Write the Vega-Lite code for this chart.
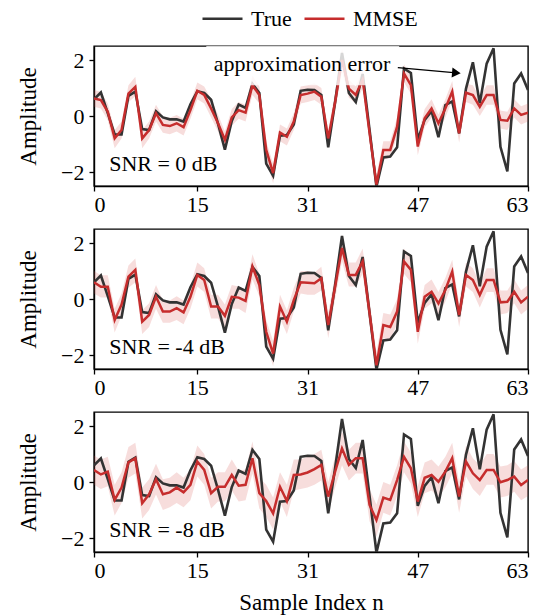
{
  "$schema": "https://vega.github.io/schema/vega-lite/v6.json",
  "padding": {"left": 16, "top": -3, "right": 8, "bottom": 0},
  "background": "white",
  "config": {
    "font": "Liberation Serif",
    "view": {"stroke": "black", "strokeWidth": 1.4},
    "axis": {"grid": false, "domainColor": "black", "domainWidth": 1.4, "tickColor": "black", "tickWidth": 1.3, "tickSize": 5, "labelFontSize": 22, "labelColor": "black", "titleFontSize": 23, "titleFontWeight": "normal", "titleColor": "black"},
    "legend": {"labelFontSize": 22, "labelColor": "black"}
  },
  "datasets": {
    "truth": [
      {"n":0,"v":0.6},{"n":1,"v":0.84},{"n":2,"v":0.1},{"n":3,"v":-0.66},{"n":4,"v":-0.66},{"n":5,"v":0.72},{"n":6,"v":0.87},{"n":7,"v":-0.47},
      {"n":8,"v":-0.5},{"n":9,"v":0.17},{"n":10,"v":-0.05},{"n":11,"v":-0.12},{"n":12,"v":-0.12},{"n":13,"v":-0.2},{"n":14,"v":0.42},{"n":15,"v":0.88},
      {"n":16,"v":0.82},{"n":17,"v":0.58},{"n":18,"v":-0.27},{"n":19,"v":-1.2},{"n":20,"v":-0.18},{"n":21,"v":0.41},{"n":22,"v":0.29},{"n":23,"v":1.15},
      {"n":24,"v":0.82},{"n":25,"v":-1.7},{"n":26,"v":-2.13},{"n":27,"v":-0.7},{"n":28,"v":-0.68},{"n":29,"v":-0.3},{"n":30,"v":0.9},{"n":31,"v":0.94},
      {"n":32,"v":0.93},{"n":33,"v":0.75},{"n":34,"v":-1.12},{"n":35,"v":0.5},{"n":36,"v":2.25},{"n":37,"v":0.82},{"n":38,"v":0.5},{"n":39,"v":1.5},
      {"n":40,"v":-0.5},{"n":41,"v":-2.52},{"n":42,"v":-1.48},{"n":43,"v":-1.45},{"n":44,"v":-1.12},{"n":45,"v":1.7},{"n":46,"v":1.54},{"n":47,"v":-0.85},
      {"n":48,"v":-0.14},{"n":49,"v":0.17},{"n":50,"v":-0.76},{"n":51,"v":0.39},{"n":52,"v":0.52},{"n":53,"v":-0.62},{"n":54,"v":0.98},{"n":55,"v":1.92},
      {"n":56,"v":0.45},{"n":57,"v":1.87},{"n":58,"v":2.42},{"n":59,"v":-1.1},{"n":60,"v":-1.98},{"n":61,"v":1.16},{"n":62,"v":1.52},{"n":63,"v":0.93}
    ],
    "est": [
      {"p":0,"n":0,"m":0.63,"lo":0.33,"hi":0.93},{"p":0,"n":1,"m":0.57,"lo":0.27,"hi":0.87},{"p":0,"n":2,"m":0.15,"lo":-0.15,"hi":0.45},{"p":0,"n":3,"m":-0.8,"lo":-1.15,"hi":-0.5},
      {"p":0,"n":4,"m":-0.5,"lo":-0.8,"hi":-0.2},{"p":0,"n":5,"m":0.8,"lo":0.5,"hi":1.1},{"p":0,"n":6,"m":1.04,"lo":0.7,"hi":1.4},{"p":0,"n":7,"m":-0.8,"lo":-1.15,"hi":-0.5},
      {"p":0,"n":8,"m":-0.5,"lo":-0.8,"hi":-0.2},{"p":0,"n":9,"m":0.1,"lo":-0.2,"hi":0.4},{"p":0,"n":10,"m":-0.32,"lo":-0.6,"hi":-0.02},{"p":0,"n":11,"m":-0.36,"lo":-0.65,"hi":-0.06},
      {"p":0,"n":12,"m":-0.26,"lo":-0.55,"hi":0.04},{"p":0,"n":13,"m":-0.4,"lo":-0.7,"hi":-0.1},{"p":0,"n":14,"m":0.21,"lo":-0.1,"hi":0.5},{"p":0,"n":15,"m":0.9,"lo":0.6,"hi":1.2},
      {"p":0,"n":16,"m":0.75,"lo":0.45,"hi":1.05},{"p":0,"n":17,"m":0.27,"lo":-0.05,"hi":0.6},{"p":0,"n":18,"m":-0.26,"lo":-0.55,"hi":0.05},{"p":0,"n":19,"m":-0.85,"lo":-1.2,"hi":-0.55},
      {"p":0,"n":20,"m":-0.05,"lo":-0.35,"hi":0.25},{"p":0,"n":21,"m":0.21,"lo":-0.1,"hi":0.5},{"p":0,"n":22,"m":0.12,"lo":-0.2,"hi":0.4},{"p":0,"n":23,"m":1.1,"lo":0.75,"hi":1.45},
      {"p":0,"n":24,"m":0.75,"lo":0.45,"hi":1.05},{"p":0,"n":25,"m":-1.21,"lo":-1.55,"hi":-0.9},{"p":0,"n":26,"m":-2.04,"lo":-2.4,"hi":-1.7},{"p":0,"n":27,"m":-0.59,"lo":-0.9,"hi":-0.3},
      {"p":0,"n":28,"m":-0.74,"lo":-1.05,"hi":-0.45},{"p":0,"n":29,"m":-0.2,"lo":-0.5,"hi":0.1},{"p":0,"n":30,"m":0.75,"lo":0.45,"hi":1.05},{"p":0,"n":31,"m":0.8,"lo":0.5,"hi":1.1},
      {"p":0,"n":32,"m":0.87,"lo":0.57,"hi":1.17},{"p":0,"n":33,"m":0.69,"lo":0.4,"hi":1.0},{"p":0,"n":34,"m":-0.8,"lo":-1.15,"hi":-0.5},{"p":0,"n":35,"m":0.5,"lo":0.15,"hi":0.85},
      {"p":0,"n":36,"m":2.0,"lo":1.6,"hi":2.4},{"p":0,"n":37,"m":0.98,"lo":0.65,"hi":1.3},{"p":0,"n":38,"m":0.75,"lo":0.45,"hi":1.05},{"p":0,"n":39,"m":1.3,"lo":1.0,"hi":1.65},
      {"p":0,"n":40,"m":-0.6,"lo":-0.9,"hi":-0.3},{"p":0,"n":41,"m":-2.45,"lo":-2.7,"hi":-2.1},{"p":0,"n":42,"m":-1.21,"lo":-1.55,"hi":-0.9},{"p":0,"n":43,"m":-1.21,"lo":-1.5,"hi":-0.9},
      {"p":0,"n":44,"m":-0.38,"lo":-0.7,"hi":-0.05},{"p":0,"n":45,"m":1.52,"lo":1.2,"hi":1.85},{"p":0,"n":46,"m":1.1,"lo":0.8,"hi":1.4},{"p":0,"n":47,"m":-1.09,"lo":-1.4,"hi":-0.75},
      {"p":0,"n":48,"m":-0.08,"lo":-0.4,"hi":0.25},{"p":0,"n":49,"m":0.27,"lo":-0.05,"hi":0.6},{"p":0,"n":50,"m":-0.26,"lo":-0.6,"hi":0.05},{"p":0,"n":51,"m":0.27,"lo":-0.05,"hi":0.6},
      {"p":0,"n":52,"m":0.87,"lo":0.55,"hi":1.25},{"p":0,"n":53,"m":-0.62,"lo":-0.95,"hi":-0.3},{"p":0,"n":54,"m":0.83,"lo":0.5,"hi":1.15},{"p":0,"n":55,"m":0.75,"lo":0.4,"hi":1.1},
      {"p":0,"n":56,"m":0.33,"lo":0.0,"hi":0.65},{"p":0,"n":57,"m":0.75,"lo":0.4,"hi":1.1},{"p":0,"n":58,"m":0.75,"lo":0.4,"hi":1.1},{"p":0,"n":59,"m":-0.14,"lo":-0.45,"hi":0.2},
      {"p":0,"n":60,"m":-0.17,"lo":-0.5,"hi":0.15},{"p":0,"n":61,"m":0.27,"lo":-0.05,"hi":0.6},{"p":0,"n":62,"m":0.04,"lo":-0.3,"hi":0.35},{"p":0,"n":63,"m":0.12,"lo":-0.2,"hi":0.45},

      {"p":-4,"n":0,"m":0.6,"lo":0.2,"hi":1.0},{"p":-4,"n":1,"m":0.44,"lo":0.05,"hi":0.85},{"p":-4,"n":2,"m":0.44,"lo":0.05,"hi":0.85},{"p":-4,"n":3,"m":-0.75,"lo":-1.2,"hi":-0.35},
      {"p":-4,"n":4,"m":-0.2,"lo":-0.6,"hi":0.2},{"p":-4,"n":5,"m":0.8,"lo":0.4,"hi":1.2},{"p":-4,"n":6,"m":1.04,"lo":0.6,"hi":1.45},{"p":-4,"n":7,"m":-0.81,"lo":-1.25,"hi":-0.4},
      {"p":-4,"n":8,"m":-0.57,"lo":-1.0,"hi":-0.15},{"p":-4,"n":9,"m":0.08,"lo":-0.35,"hi":0.5},{"p":-4,"n":10,"m":-0.45,"lo":-0.85,"hi":-0.05},{"p":-4,"n":11,"m":-0.45,"lo":-0.85,"hi":-0.05},
      {"p":-4,"n":12,"m":-0.33,"lo":-0.75,"hi":0.1},{"p":-4,"n":13,"m":-0.48,"lo":-0.9,"hi":-0.05},{"p":-4,"n":14,"m":0.08,"lo":-0.35,"hi":0.5},{"p":-4,"n":15,"m":0.86,"lo":0.45,"hi":1.3},
      {"p":-4,"n":16,"m":0.68,"lo":0.25,"hi":1.1},{"p":-4,"n":17,"m":-0.27,"lo":-0.7,"hi":0.15},{"p":-4,"n":18,"m":-0.27,"lo":-0.7,"hi":0.15},{"p":-4,"n":19,"m":-0.6,"lo":-1.05,"hi":-0.2},
      {"p":-4,"n":20,"m":0.08,"lo":-0.35,"hi":0.5},{"p":-4,"n":21,"m":0.05,"lo":-0.35,"hi":0.45},{"p":-4,"n":22,"m":-0.07,"lo":-0.5,"hi":0.35},{"p":-4,"n":23,"m":1.16,"lo":0.7,"hi":1.6},
      {"p":-4,"n":24,"m":0.5,"lo":0.1,"hi":0.9},{"p":-4,"n":25,"m":-1.17,"lo":-1.6,"hi":-0.75},{"p":-4,"n":26,"m":-1.95,"lo":-2.4,"hi":-1.5},{"p":-4,"n":27,"m":-0.27,"lo":-0.7,"hi":0.15},
      {"p":-4,"n":28,"m":-0.81,"lo":-1.25,"hi":-0.4},{"p":-4,"n":29,"m":-0.04,"lo":-0.45,"hi":0.4},{"p":-4,"n":30,"m":0.6,"lo":0.2,"hi":1.0},{"p":-4,"n":31,"m":0.58,"lo":0.15,"hi":1.0},
      {"p":-4,"n":32,"m":0.56,"lo":0.15,"hi":0.95},{"p":-4,"n":33,"m":0.74,"lo":0.3,"hi":1.15},{"p":-4,"n":34,"m":-0.93,"lo":-1.4,"hi":-0.5},{"p":-4,"n":35,"m":0.44,"lo":0.0,"hi":0.85},
      {"p":-4,"n":36,"m":1.82,"lo":1.35,"hi":2.3},{"p":-4,"n":37,"m":0.86,"lo":0.45,"hi":1.3},{"p":-4,"n":38,"m":0.86,"lo":0.45,"hi":1.3},{"p":-4,"n":39,"m":1.34,"lo":0.9,"hi":1.8},
      {"p":-4,"n":40,"m":-0.5,"lo":-0.95,"hi":-0.05},{"p":-4,"n":41,"m":-2.37,"lo":-2.6,"hi":-1.9},{"p":-4,"n":42,"m":-0.93,"lo":-1.4,"hi":-0.5},{"p":-4,"n":43,"m":-1.0,"lo":-1.45,"hi":-0.55},
      {"p":-4,"n":44,"m":-0.45,"lo":-0.9,"hi":0.0},{"p":-4,"n":45,"m":1.34,"lo":0.9,"hi":1.8},{"p":-4,"n":46,"m":1.04,"lo":0.6,"hi":1.45},{"p":-4,"n":47,"m":-1.17,"lo":-1.6,"hi":-0.75},
      {"p":-4,"n":48,"m":0.08,"lo":-0.35,"hi":0.5},{"p":-4,"n":49,"m":0.26,"lo":-0.15,"hi":0.7},{"p":-4,"n":50,"m":-0.16,"lo":-0.6,"hi":0.25},{"p":-4,"n":51,"m":0.32,"lo":-0.1,"hi":0.75},
      {"p":-4,"n":52,"m":0.98,"lo":0.55,"hi":1.4},{"p":-4,"n":53,"m":-0.57,"lo":-1.0,"hi":-0.15},{"p":-4,"n":54,"m":0.86,"lo":0.45,"hi":1.3},{"p":-4,"n":55,"m":0.68,"lo":0.25,"hi":1.1},
      {"p":-4,"n":56,"m":0.14,"lo":-0.3,"hi":0.55},{"p":-4,"n":57,"m":0.68,"lo":0.25,"hi":1.1},{"p":-4,"n":58,"m":0.68,"lo":0.25,"hi":1.1},{"p":-4,"n":59,"m":-0.12,"lo":-0.55,"hi":0.3},
      {"p":-4,"n":60,"m":-0.1,"lo":-0.5,"hi":0.3},{"p":-4,"n":61,"m":0.26,"lo":-0.15,"hi":0.7},{"p":-4,"n":62,"m":-0.12,"lo":-0.55,"hi":0.3},{"p":-4,"n":63,"m":0.08,"lo":-0.35,"hi":0.5},

      {"p":-8,"n":0,"m":0.43,"lo":-0.1,"hi":0.95},{"p":-8,"n":1,"m":0.27,"lo":-0.25,"hi":0.8},{"p":-8,"n":2,"m":0.37,"lo":-0.15,"hi":0.9},{"p":-8,"n":3,"m":-0.64,"lo":-1.2,"hi":-0.1},
      {"p":-8,"n":4,"m":-0.2,"lo":-0.75,"hi":0.35},{"p":-8,"n":5,"m":0.7,"lo":0.15,"hi":1.25},{"p":-8,"n":6,"m":0.85,"lo":0.3,"hi":1.4},{"p":-8,"n":7,"m":-0.76,"lo":-1.3,"hi":-0.2},
      {"p":-8,"n":8,"m":-0.44,"lo":-1.0,"hi":0.1},{"p":-8,"n":9,"m":0.1,"lo":-0.45,"hi":0.65},{"p":-8,"n":10,"m":-0.44,"lo":-1.0,"hi":0.1},{"p":-8,"n":11,"m":-0.37,"lo":-0.9,"hi":0.15},
      {"p":-8,"n":12,"m":-0.2,"lo":-0.75,"hi":0.35},{"p":-8,"n":13,"m":-0.37,"lo":-0.9,"hi":0.15},{"p":-8,"n":14,"m":-0.1,"lo":-0.65,"hi":0.45},{"p":-8,"n":15,"m":0.73,"lo":0.2,"hi":1.3},
      {"p":-8,"n":16,"m":0.43,"lo":-0.1,"hi":1.0},{"p":-8,"n":17,"m":-0.4,"lo":-0.95,"hi":0.15},{"p":-8,"n":18,"m":-0.17,"lo":-0.7,"hi":0.35},{"p":-8,"n":19,"m":-0.17,"lo":-0.7,"hi":0.35},
      {"p":-8,"n":20,"m":0.25,"lo":-0.3,"hi":0.8},{"p":-8,"n":21,"m":-0.13,"lo":-0.7,"hi":0.4},{"p":-8,"n":22,"m":-0.1,"lo":-0.65,"hi":0.45},{"p":-8,"n":23,"m":0.85,"lo":0.3,"hi":1.45},
      {"p":-8,"n":24,"m":-0.4,"lo":-0.95,"hi":0.15},{"p":-8,"n":25,"m":-0.68,"lo":-1.25,"hi":-0.1},{"p":-8,"n":26,"m":-1.12,"lo":-1.7,"hi":-0.55},{"p":-8,"n":27,"m":-0.17,"lo":-0.7,"hi":0.35},
      {"p":-8,"n":28,"m":-0.68,"lo":-1.25,"hi":-0.1},{"p":-8,"n":29,"m":0.25,"lo":-0.3,"hi":0.8},{"p":-8,"n":30,"m":0.27,"lo":-0.25,"hi":0.8},{"p":-8,"n":31,"m":0.34,"lo":-0.2,"hi":0.9},
      {"p":-8,"n":32,"m":0.46,"lo":-0.1,"hi":1.0},{"p":-8,"n":33,"m":0.61,"lo":0.05,"hi":1.15},{"p":-8,"n":34,"m":-0.52,"lo":-1.1,"hi":0.0},{"p":-8,"n":35,"m":0.37,"lo":-0.2,"hi":0.9},
      {"p":-8,"n":36,"m":1.2,"lo":0.6,"hi":1.8},{"p":-8,"n":37,"m":0.61,"lo":0.05,"hi":1.15},{"p":-8,"n":38,"m":0.85,"lo":0.3,"hi":1.4},{"p":-8,"n":39,"m":0.85,"lo":0.3,"hi":1.4},
      {"p":-8,"n":40,"m":-0.82,"lo":-1.4,"hi":-0.25},{"p":-8,"n":41,"m":-1.36,"lo":-1.95,"hi":-0.8},{"p":-8,"n":42,"m":-0.56,"lo":-1.1,"hi":0.0},{"p":-8,"n":43,"m":-0.64,"lo":-1.2,"hi":-0.1},
      {"p":-8,"n":44,"m":0.07,"lo":-0.5,"hi":0.6},{"p":-8,"n":45,"m":0.9,"lo":0.35,"hi":1.45},{"p":-8,"n":46,"m":0.49,"lo":-0.05,"hi":1.05},{"p":-8,"n":47,"m":-0.7,"lo":-1.25,"hi":-0.15},
      {"p":-8,"n":48,"m":0.15,"lo":-0.4,"hi":0.7},{"p":-8,"n":49,"m":0.25,"lo":-0.3,"hi":0.8},{"p":-8,"n":50,"m":0.01,"lo":-0.55,"hi":0.55},{"p":-8,"n":51,"m":0.37,"lo":-0.2,"hi":0.9},
      {"p":-8,"n":52,"m":0.85,"lo":0.3,"hi":1.4},{"p":-8,"n":53,"m":-0.52,"lo":-1.1,"hi":0.0},{"p":-8,"n":54,"m":0.73,"lo":0.2,"hi":1.3},{"p":-8,"n":55,"m":0.31,"lo":-0.25,"hi":0.85},
      {"p":-8,"n":56,"m":0.07,"lo":-0.5,"hi":0.6},{"p":-8,"n":57,"m":0.43,"lo":-0.1,"hi":1.0},{"p":-8,"n":58,"m":0.43,"lo":-0.1,"hi":1.0},{"p":-8,"n":59,"m":-0.01,"lo":-0.55,"hi":0.55},
      {"p":-8,"n":60,"m":0.07,"lo":-0.5,"hi":0.6},{"p":-8,"n":61,"m":0.19,"lo":-0.35,"hi":0.75},{"p":-8,"n":62,"m":-0.11,"lo":-0.65,"hi":0.45},{"p":-8,"n":63,"m":0.07,"lo":-0.5,"hi":0.6}
    ],
    "labels": [
      {"p":0,"x":2.2,"y":-1.72,"t":"SNR = 0 dB"},
      {"p":-4,"x":2.2,"y":-1.72,"t":"SNR = -4 dB"},
      {"p":-8,"x":2.2,"y":-1.72,"t":"SNR = -8 dB"}
    ],
    "box": [{"x":16.3,"x2":44.3,"y":1.1,"y2":2.5}],
    "note": [{"x":30.2,"y":1.84,"t":"approximation error"}],
    "arrow": [{"x":44.1,"y":1.73,"x2":52.6,"y2":1.54}]
  },
  "vconcat": [
    {
      "width": 434, "height": 140,
      "layer": [
        {"data": {"name": "est"}, "transform": [{"filter": "datum.p == 0"}],
         "mark": {"type": "area", "color": "#d9534f", "opacity": 0.2, "clip": true},
         "encoding": {"x": {"field": "n", "type": "quantitative", "scale": {"domain": [0, 63], "nice": false, "zero": false}, "axis": {"values": [0, 15, 31, 47, 63], "title": null, "labelPadding": 3}},
                      "y": {"field": "lo", "type": "quantitative", "scale": {"domain": [-2.5, 2.5], "nice": false}, "axis": {"values": [-2, -1, 0, 1, 2], "title": "Amplitude", "labelPadding": 5, "titlePadding": 20}},
                      "y2": {"field": "hi"}}},
        {"data": {"name": "truth"},
         "mark": {"type": "line", "strokeWidth": 2.6, "clip": true},
         "encoding": {"x": {"field": "n", "type": "quantitative"}, "y": {"field": "v", "type": "quantitative"},
                      "color": {"datum": "True", "type": "nominal", "scale": {"domain": ["True", "MMSE"], "range": ["#333333", "#c62d2d"]},
                                "legend": {"orient": "none", "legendX": 107, "legendY": -49, "direction": "horizontal", "title": null, "symbolType": "stroke", "symbolSize": 1600, "symbolStrokeWidth": 2.5, "labelFontSize": 22, "labelOffset": 7, "columnPadding": 7}}}},
        {"data": {"name": "est"}, "transform": [{"filter": "datum.p == 0"}],
         "mark": {"type": "line", "strokeWidth": 2.5, "clip": true},
         "encoding": {"x": {"field": "n", "type": "quantitative"}, "y": {"field": "m", "type": "quantitative"},
                      "color": {"datum": "MMSE", "type": "nominal"}}},
        {"data": {"name": "box"},
         "mark": {"type": "rect", "fill": "white", "opacity": 0.8},
         "encoding": {"x": {"field": "x", "type": "quantitative"}, "x2": {"field": "x2"}, "y": {"field": "y", "type": "quantitative"}, "y2": {"field": "y2"}}},
        {"data": {"name": "note"},
         "mark": {"type": "text", "fontSize": 22, "align": "center", "baseline": "middle", "color": "black"},
         "encoding": {"x": {"field": "x", "type": "quantitative"}, "y": {"field": "y", "type": "quantitative"}, "text": {"field": "t"}}},
        {"data": {"name": "arrow"},
         "mark": {"type": "rule", "strokeWidth": 1.2, "color": "black"},
         "encoding": {"x": {"field": "x", "type": "quantitative"}, "y": {"field": "y", "type": "quantitative"}, "x2": {"field": "x2"}, "y2": {"field": "y2"}}},
        {"data": {"name": "arrow"},
         "mark": {"type": "point", "shape": "triangle-right", "filled": true, "color": "black", "size": 100, "angle": 5, "opacity": 1},
         "encoding": {"x": {"field": "x2", "type": "quantitative"}, "y": {"field": "y2", "type": "quantitative"}}},
        {"data": {"name": "labels"}, "transform": [{"filter": "datum.p == 0"}],
         "mark": {"type": "text", "fontSize": 22, "align": "left", "baseline": "middle", "color": "black"},
         "encoding": {"x": {"field": "x", "type": "quantitative"}, "y": {"field": "y", "type": "quantitative"}, "text": {"field": "t"}}}
      ]
    },
    {
      "width": 434, "height": 140,
      "layer": [
        {"data": {"name": "est"}, "transform": [{"filter": "datum.p == -4"}],
         "mark": {"type": "area", "color": "#d9534f", "opacity": 0.2, "clip": true},
         "encoding": {"x": {"field": "n", "type": "quantitative", "scale": {"domain": [0, 63], "nice": false, "zero": false}, "axis": {"values": [0, 15, 31, 47, 63], "title": null, "labelPadding": 3}},
                      "y": {"field": "lo", "type": "quantitative", "scale": {"domain": [-2.5, 2.5], "nice": false}, "axis": {"values": [-2, -1, 0, 1, 2], "title": "Amplitude", "labelPadding": 5, "titlePadding": 20}},
                      "y2": {"field": "hi"}}},
        {"data": {"name": "truth"},
         "mark": {"type": "line", "strokeWidth": 2.6, "clip": true},
         "encoding": {"x": {"field": "n", "type": "quantitative"}, "y": {"field": "v", "type": "quantitative"},
                      "color": {"datum": "True", "type": "nominal"}}},
        {"data": {"name": "est"}, "transform": [{"filter": "datum.p == -4"}],
         "mark": {"type": "line", "strokeWidth": 2.5, "clip": true},
         "encoding": {"x": {"field": "n", "type": "quantitative"}, "y": {"field": "m", "type": "quantitative"},
                      "color": {"datum": "MMSE", "type": "nominal"}}},
        {"data": {"name": "labels"}, "transform": [{"filter": "datum.p == -4"}],
         "mark": {"type": "text", "fontSize": 22, "align": "left", "baseline": "middle", "color": "black"},
         "encoding": {"x": {"field": "x", "type": "quantitative"}, "y": {"field": "y", "type": "quantitative"}, "text": {"field": "t"}}}
      ]
    },
    {
      "width": 434, "height": 140,
      "layer": [
        {"data": {"name": "est"}, "transform": [{"filter": "datum.p == -8"}],
         "mark": {"type": "area", "color": "#d9534f", "opacity": 0.2, "clip": true},
         "encoding": {"x": {"field": "n", "type": "quantitative", "scale": {"domain": [0, 63], "nice": false, "zero": false}, "axis": {"values": [0, 15, 31, 47, 63], "title": "Sample Index n", "labelPadding": 3, "titlePadding": 10}},
                      "y": {"field": "lo", "type": "quantitative", "scale": {"domain": [-2.5, 2.5], "nice": false}, "axis": {"values": [-2, -1, 0, 1, 2], "title": "Amplitude", "labelPadding": 5, "titlePadding": 20}},
                      "y2": {"field": "hi"}}},
        {"data": {"name": "truth"},
         "mark": {"type": "line", "strokeWidth": 2.6, "clip": true},
         "encoding": {"x": {"field": "n", "type": "quantitative"}, "y": {"field": "v", "type": "quantitative"},
                      "color": {"datum": "True", "type": "nominal"}}},
        {"data": {"name": "est"}, "transform": [{"filter": "datum.p == -8"}],
         "mark": {"type": "line", "strokeWidth": 2.5, "clip": true},
         "encoding": {"x": {"field": "n", "type": "quantitative"}, "y": {"field": "m", "type": "quantitative"},
                      "color": {"datum": "MMSE", "type": "nominal"}}},
        {"data": {"name": "labels"}, "transform": [{"filter": "datum.p == -8"}],
         "mark": {"type": "text", "fontSize": 22, "align": "left", "baseline": "middle", "color": "black"},
         "encoding": {"x": {"field": "x", "type": "quantitative"}, "y": {"field": "y", "type": "quantitative"}, "text": {"field": "t"}}}
      ]
    }
  ],
  "spacing": 43,
  "bounds": "flush",
  "resolve": {"scale": {"color": "shared"}}
}
